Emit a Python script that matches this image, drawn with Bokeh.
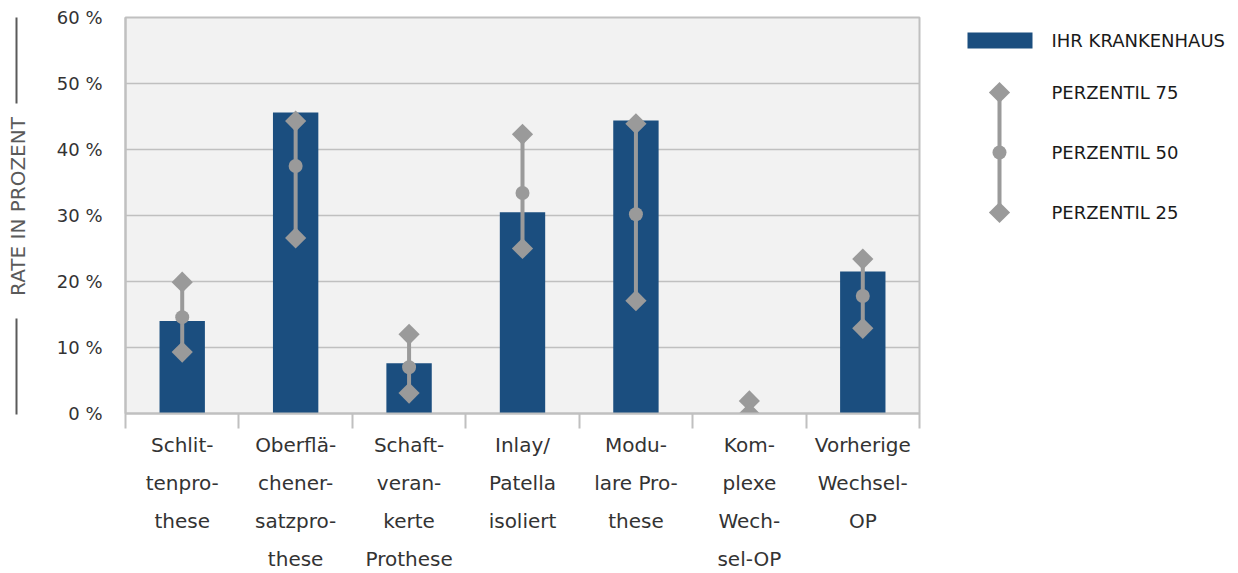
import math
from bokeh.plotting import figure
from bokeh.layouts import row, column
from bokeh.models import ColumnDataSource, FactorRange, Range1d, LinearAxis, FixedTicker
from bokeh.core.properties import value
from bokeh.embed import file_html
from bokeh.resources import INLINE

# ---------------- data ----------------
categories = ["Schlittenprothese", "Oberflächenersatzprothese",
              "Schaftverankerte Prothese", "Inlay/Patella isoliert",
              "Modulare Prothese", "Komplexe Wechsel-OP", "Vorherige Wechsel-OP"]
label_lines = [["Schlit-", "tenpro-", "these"],
               ["Oberflä-", "chener-", "satzpro-", "these"],
               ["Schaft-", "veran-", "kerte", "Prothese"],
               ["Inlay/", "Patella", "isoliert"],
               ["Modu-", "lare Pro-", "these"],
               ["Kom-", "plexe", "Wech-", "sel-OP"],
               ["Vorherige", "Wechsel-", "OP"]]
hospital = [14.0, 45.6, 7.6, 30.5, 44.4, 0.0, 21.5]
p75 = [19.9, 44.3, 12.0, 42.3, 43.9, 1.9, 23.4]
p50 = [14.6, 37.5, 7.0, 33.4, 30.2, 0.0, 17.8]
p25 = [9.3, 26.6, 3.1, 25.0, 17.1, 0.0, 12.9]
y_ticks = [0, 10, 20, 30, 40, 50, 60]
y_tick_labels = ["0 %", "10 %", "20 %", "30 %", "40 %", "50 %", "60 %"]
y_title = "RATE IN PROZENT"
legend_labels = ["IHR KRANKENHAUS", "PERZENTIL 75", "PERZENTIL 50", "PERZENTIL 25"]

# ---------------- styles ----------------
BAR = "#1b4e7f"
GREY = "#9a9a9a"
GRID = "#c0c0c0"
BG = "#f2f2f2"
TXT = "#333333"
FONT = "DejaVu Sans"

src = ColumnDataSource(dict(cat=categories, hosp=hospital, p75=p75, p50=p50, p25=p25))
xr = FactorRange(factors=categories, range_padding=0)

# ---------------- main chart ----------------
main = figure(width=900, height=433, x_range=xr, y_range=Range1d(0, 60),
              output_backend="svg", toolbar_location=None,
              x_axis_location=None, min_border_left=85, min_border_right=21,
              min_border_top=17, min_border_bottom=20)
main.background_fill_color = BG
main.border_fill_color = "white"
main.outline_line_color = GRID
main.outline_line_width = 2
main.xgrid.visible = False
main.ygrid.grid_line_color = GRID
main.ygrid.grid_line_width = 1.5
main.ygrid.ticker = FixedTicker(ticks=y_ticks)

ya = main.yaxis[0]
ya.ticker = FixedTicker(ticks=y_ticks)
ya.major_label_overrides = {t: l for t, l in zip(y_ticks, y_tick_labels)}
ya.axis_line_color = GRID
ya.axis_line_width = 2
ya.major_tick_line_color = None
ya.minor_tick_line_color = None
ya.major_label_standoff = 17
ya.major_label_text_font = FONT
ya.major_label_text_font_size = "18px"
ya.major_label_text_color = TXT

# category boundary ticks (minor ticks only, so no labels)
xa = LinearAxis(ticker=FixedTicker(ticks=[], minor_ticks=list(range(len(categories) + 1))),
                axis_line_color=GRID, axis_line_width=2,
                major_tick_line_color=None,
                minor_tick_out=15, minor_tick_in=0,
                minor_tick_line_color=GRID, minor_tick_line_width=2)
main.add_layout(xa, "below")

main.vbar(x="cat", top="hosp", width=0.4, source=src, fill_color=BAR, line_color=None)
main.segment(x0="cat", y0="p25", x1="cat", y1="p75", source=src,
             line_color=GREY, line_width=4)
main.scatter(x="cat", y="p75", source=src, marker="square", size=15,
             angle=math.pi / 4, fill_color=GREY, line_color=None)
main.scatter(x="cat", y="p25", source=src, marker="square", size=15,
             angle=math.pi / 4, fill_color=GREY, line_color=None)
main.scatter(x="cat", y="p50", source=src, marker="circle", size=14,
             fill_color=GREY, line_color=None)

# ---------------- category labels ----------------
lx, ly, lt = [], [], []
for c, lines in zip(categories, label_lines):
    for k, t in enumerate(lines):
        lx.append(c)
        ly.append(444 + 38 * k)
        lt.append(t)
bottom = figure(width=900, height=140, x_range=xr, y_range=Range1d(573, 433),
                output_backend="svg", toolbar_location=None,
                x_axis_location=None, y_axis_location=None,
                min_border_left=85, min_border_right=21,
                min_border_top=0, min_border_bottom=0)
bottom.outline_line_color = None
bottom.grid.visible = False
bottom.background_fill_color = "white"
bottom.text(x=lx, y=ly, text=lt, text_align="center", text_baseline="alphabetic",
            text_font=value(FONT), text_font_size="20px", text_color=TXT)

# ---------------- y title strip ----------------
strip = figure(width=40, height=573, x_range=Range1d(0, 40), y_range=Range1d(573, 0),
               output_backend="svg", toolbar_location=None,
               x_axis_location=None, y_axis_location=None, min_border=0)
strip.outline_line_color = None
strip.grid.visible = False
strip.segment(x0=[16, 16], y0=[17, 318], x1=[16, 16], y1=[103, 414],
              line_color="#5a5a5a", line_width=2)
strip.text(x=[17], y=[206], text=[y_title], angle=math.pi / 2,
           text_align="center", text_baseline="middle",
           text_font=value(FONT), text_font_size="20px", text_color="#5a5a5a")

# ---------------- legend ----------------
leg = figure(width=298, height=573, x_range=Range1d(940, 1238), y_range=Range1d(573, 0),
             output_backend="svg", toolbar_location=None,
             x_axis_location=None, y_axis_location=None, min_border=0)
leg.outline_line_color = None
leg.grid.visible = False
leg.rect(x=[999.5], y=[40], width=65, height=16, fill_color=BAR, line_color=None)
leg.segment(x0=[999], y0=[92], x1=[999], y1=[212], line_color=GREY, line_width=4)
leg.scatter(x=[999, 999], y=[92, 212], marker="square", size=15, angle=math.pi / 4,
            fill_color=GREY, line_color=None)
leg.scatter(x=[999], y=[152], marker="circle", size=14, fill_color=GREY, line_color=None)
leg.text(x=[1051] * 4, y=[40, 92, 152, 212], text=legend_labels,
         text_align="left", text_baseline="middle",
         text_font=value(FONT), text_font_size="18px", text_color="#1a1a1a")

layout = row(strip, column(main, bottom), leg)
open("out.html", "w").write(file_html(layout, INLINE))
